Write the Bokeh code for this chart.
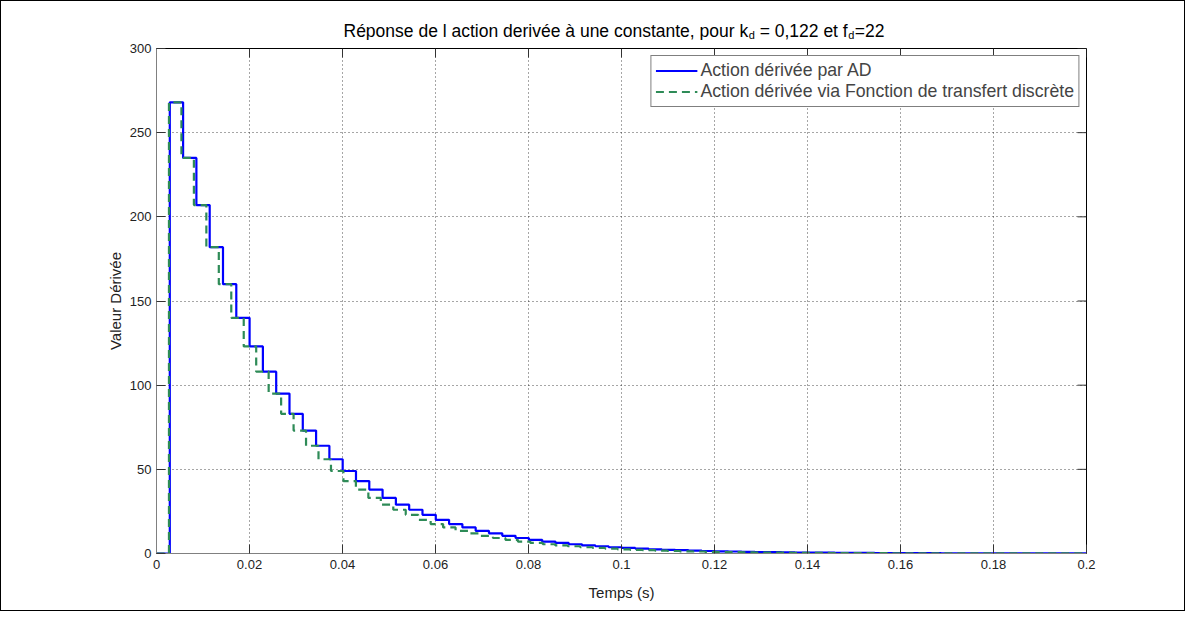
import numpy as np
from bokeh.plotting import figure
from bokeh.layouts import column
from bokeh.models import (Range1d, FixedTicker, Legend, LegendItem, ColumnDataSource)
from bokeh.core.properties import value
from bokeh.embed import file_html
from bokeh.resources import INLINE

# ---------------- data ----------------
Ts_ad = 0.00286      # sampling period of the "AD" curve (s)
Ts_tf = 0.00268      # apparent period of the transfer-function curve (s)

levels_ad = [0, 268, 235, 207, 182, 160, 140, 123, 108, 95, 83, 73, 64, 56, 49, 43, 38,
             33, 29, 26, 23, 20, 17.5, 15.5, 13.5, 12, 10.5, 9.2, 8.1, 7.1, 6.3, 5.5, 4.8,
             4.3, 3.7, 3.3, 2.9, 2.5, 2.2, 2.0, 1.7, 1.5, 1.3, 1.2, 1.0, 0.9, 0.8, 0.7,
             0.6, 0.55, 0.5, 0.45, 0.4, 0.35, 0.3, 0.27, 0.24, 0.21, 0.18, 0.16, 0.14,
             0.12, 0.11, 0.1, 0.09, 0.08, 0.07, 0.06, 0.05, 0.05, 0.04]
levels_tf = [0, 268, 235, 207, 182, 160, 140, 123, 108, 95, 83, 73, 64, 56, 49, 43, 38,
             33, 29, 26, 23, 20, 17.5, 15.5, 13.5, 12, 10.5, 9.2, 8.1, 7.1, 6.3, 5.5, 4.8,
             4.3, 3.7, 3.3, 2.9, 2.5, 2.2, 2.0, 1.7, 1.5, 1.3, 1.2, 1.0, 0.9, 0.8, 0.7,
             0.6, 0.55, 0.5, 0.45, 0.4, 0.35, 0.3, 0.27, 0.24, 0.21, 0.18, 0.16, 0.14,
             0.12, 0.11, 0.1, 0.09, 0.08, 0.07, 0.06, 0.05, 0.05, 0.04, 0.04, 0.03, 0.03,
             0.03, 0.02]

x_ticks = [0, 0.02, 0.04, 0.06, 0.08, 0.1, 0.12, 0.14, 0.16, 0.18, 0.2]
x_tick_labels = ["0", "0.02", "0.04", "0.06", "0.08", "0.1", "0.12", "0.14", "0.16", "0.18", "0.2"]
y_ticks = [0, 50, 100, 150, 200, 250, 300]
y_tick_labels = ["0", "50", "100", "150", "200", "250", "300"]

series_names = ["Action dérivée par AD", "Action dérivée via Fonction de transfert discrète"]
# title pieces: main text, subscript, main text, subscript, main text
title_parts = ["Réponse de l action derivée à une constante, pour k", "d", "= 0,122 et f", "d", "=22"]
x_label = "Temps (s)"
y_label = "Valeur Dérivée"

X_MAX = 0.2
Y_MAX = 300
FONT = "Liberation Sans"
W = 1183
TITLE_H = 39
PLOT_H = 570
FRAME_W = 930
FRAME_H = 505
TICK_LEN = 9


def step_series(levels, ts):
    t = list(np.arange(len(levels)) * ts)
    y = list(levels)
    t.append(X_MAX)
    y.append(levels[-1])
    return t, y


t_ad, y_ad = step_series(levels_ad, Ts_ad)
t_tf, y_tf = step_series(levels_tf, Ts_tf)

# ---------------- title strip (text with subscripts) ----------------
# its frame is aligned by the column with the main plot frame, so x is in px from frame left
tp = figure(width=W, height=TITLE_H, output_backend="svg", toolbar_location=None,
            x_range=Range1d(0, FRAME_W), y_range=Range1d(0, TITLE_H), min_border=0)
tp.axis.visible = False
tp.grid.visible = False
tp.outline_line_color = None
tp.background_fill_color = "white"
tp.border_fill_color = "white"

main_size = 17.5
sub_size = 11
start_px = 187.0
w_a = 23.124 * main_size          # width of first piece (Arial metrics)
w_d = 0.556 * sub_size            # subscript "d"
w_sp = 0.278 * main_size          # a space
w_b = 5.032 * main_size           # "= 0,122 et f"
x_a = start_px
x_d1 = x_a + w_a + 0.5
x_b = x_d1 + w_d + w_sp
x_d2 = x_b + w_b + 0.5
x_c = x_d2 + w_d + 0.5
tp.text(x=[x_a, x_b, x_c], y=[10] * 3,
        text=[title_parts[0], title_parts[2], title_parts[4]], text_font=value(FONT),
        text_font_size=f"{main_size}px", text_color="black", text_align="left",
        text_baseline="alphabetic")
tp.text(x=[x_d1, x_d2], y=[6] * 2,
        text=[title_parts[1], title_parts[3]], text_font=value(FONT),
        text_font_size=f"{sub_size}px", text_color="black", text_align="left",
        text_baseline="alphabetic")

# ---------------- main plot ----------------
p = figure(width=W, height=PLOT_H, output_backend="svg", toolbar_location=None,
           x_range=Range1d(0, X_MAX), y_range=Range1d(0, Y_MAX),
           min_border_left=155, min_border_right=98, min_border_top=8, min_border_bottom=57,
           x_axis_label=x_label, y_axis_label=y_label)
p.outline_line_color = "black"
p.outline_line_width = 1
p.background_fill_color = "white"
p.border_fill_color = "white"

for ax, ticks, labels in ((p.xaxis[0], x_ticks, x_tick_labels), (p.yaxis[0], y_ticks, y_tick_labels)):
    ax.ticker = FixedTicker(ticks=ticks)
    ax.major_label_overrides = {k: v for k, v in zip(ticks, labels)}
    ax.axis_line_color = "#808080"
    ax.major_tick_line_color = "#333333"
    ax.minor_tick_line_color = None
    ax.major_tick_in = TICK_LEN
    ax.major_tick_out = 0
    ax.major_label_text_font = FONT
    ax.major_label_text_font_size = "13px"
    ax.major_label_text_color = "#222222"
    ax.axis_label_text_font = FONT
    ax.axis_label_text_font_size = "15px"
    ax.axis_label_text_font_style = "normal"
    ax.axis_label_text_color = "#222222"
p.xaxis[0].major_label_standoff = 6
p.xaxis[0].axis_label_standoff = 12
p.yaxis[0].major_label_standoff = 5
p.yaxis[0].axis_label_standoff = 3

for g in (p.xgrid[0], p.ygrid[0]):
    g.grid_line_color = "black"
    g.grid_line_alpha = 0.7
    g.grid_line_dash = "1 3"
    g.grid_line_width = 1

# mirrored inward ticks on the top and right edges of the box (from the tick lists)
dy_tick = TICK_LEN / FRAME_H * Y_MAX
dx_tick = TICK_LEN / FRAME_W * X_MAX
p.segment(x0=x_ticks, y0=[Y_MAX] * len(x_ticks), x1=x_ticks, y1=[Y_MAX - dy_tick] * len(x_ticks),
          line_color="#333333", line_width=1)
p.segment(x0=[X_MAX] * len(y_ticks), y0=y_ticks, x1=[X_MAX - dx_tick] * len(y_ticks), y1=y_ticks,
          line_color="#333333", line_width=1)

src_ad = ColumnDataSource(dict(t=t_ad, y=y_ad))
src_tf = ColumnDataSource(dict(t=t_tf, y=y_tf))
r1 = p.step("t", "y", source=src_ad, mode="after", line_color="#0000FF", line_width=2.2)
r2 = p.step("t", "y", source=src_tf, mode="after", line_color="#2E8B57", line_width=2.2,
            line_dash="8 5")

legend = Legend(items=[LegendItem(label=series_names[0], renderers=[r1]),
                       LegendItem(label=series_names[1], renderers=[r2])],
                location="top_right", margin=7, padding=4, spacing=0,
                label_height=21, glyph_height=21, glyph_width=42, label_standoff=3,
                label_text_font=FONT, label_text_font_size="17.7px",
                border_line_color="black", border_line_width=1,
                background_fill_color="white", background_fill_alpha=1.0)
p.add_layout(legend)

layout = column(tp, p, spacing=0, styles={"border": "1px solid black", "background": "white"})

open("out.html", "w").write(file_html(layout, INLINE))
